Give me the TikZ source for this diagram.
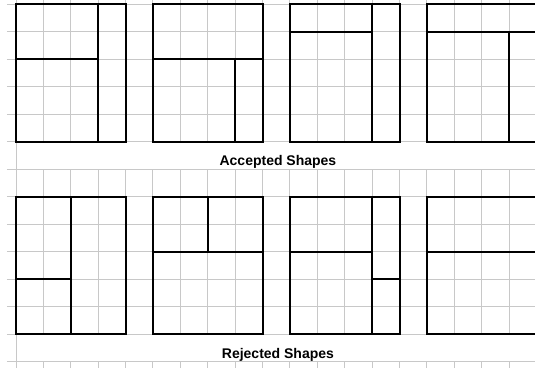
\documentclass[tikz,border=0pt]{standalone}
\usepackage{fontspec}
\setmainfont{Liberation Sans}
\definecolor{gridgray}{RGB}{200,200,200}
\begin{document}
\begin{tikzpicture}[x=13.7pt,y=-13.74pt,
  gridline/.style={draw=gridgray,line width=0.5pt},
  shapeline/.style={draw=black,line width=1pt,line cap=rect},
  shapebox/.style={draw=black,line width=1pt,line join=miter},
  caption/.style={font=\bfseries\fontsize{7pt}{8pt}\selectfont,anchor=base,inner sep=0pt}]
\useasboundingbox[fill=white] (-0.584,-0.1565) rectangle (18.942,13.235);
% horizontal grid lines
\foreach \r in {0,...,13} \draw[gridline] (-0.33,\r) -- (18.942,\r);
% vertical grid lines
\draw[gridline] (0,-0.1565) -- (0,13.235);
\foreach \k in {1,...,18} {
  \draw[gridline] (\k,-0.1565) -- (\k,5);
  \draw[gridline] (\k,6) -- (\k,12);
  \draw[gridline] (\k,13) -- (\k,13.235);
}
% ---- accepted shapes ----
\draw[shapebox] (0,0) rectangle (4,5);
\draw[shapeline] (3,0) -- (3,5);
\draw[shapeline] (0,2) -- (3,2);
\draw[shapebox] (5,0) rectangle (9,5);
\draw[shapeline] (5,2) -- (9,2);
\draw[shapeline] (8,2) -- (8,5);
\draw[shapebox] (10,0) rectangle (14,5);
\draw[shapeline] (13,0) -- (13,5);
\draw[shapeline] (10,1) -- (13,1);
\draw[shapebox] (15,0) rectangle (19,5);
\draw[shapeline] (15,1) -- (19,1);
\draw[shapeline] (18,1) -- (18,5);
\node[caption] (acc) at (9.56,5.873) {Accepted Shapes};
% ---- rejected shapes ----
\draw[shapebox] (0,7) rectangle (4,12);
\draw[shapeline] (2,7) -- (2,12);
\draw[shapeline] (0,10) -- (2,10);
\draw[shapebox] (5,7) rectangle (9,12);
\draw[shapeline] (5,9) -- (9,9);
\draw[shapeline] (7,7) -- (7,9);
\draw[shapebox] (10,7) rectangle (14,12);
\draw[shapeline] (13,7) -- (13,12);
\draw[shapeline] (10,9) -- (13,9);
\draw[shapeline] (13,10) -- (14,10);
\draw[shapebox] (15,7) rectangle (19,12);
\draw[shapeline] (15,9) -- (19,9);
\node[caption] (rej) at (9.56,12.88) {Rejected Shapes};
\end{tikzpicture}
\end{document}
